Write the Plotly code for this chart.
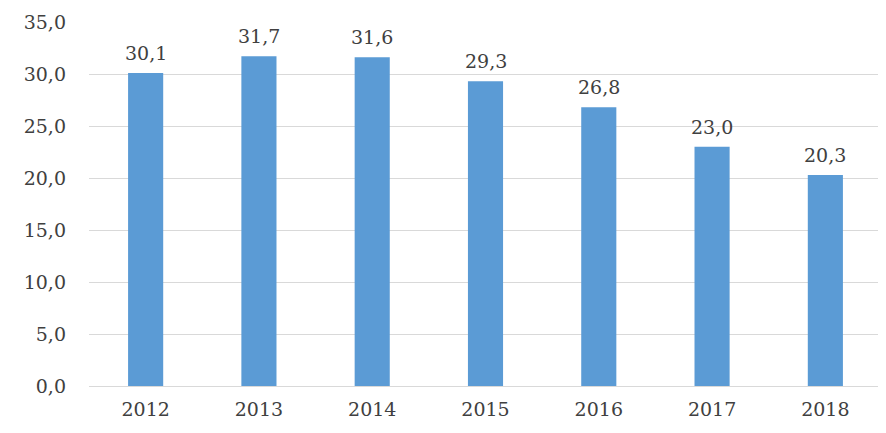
import plotly.graph_objects as go

years = ["2012", "2013", "2014", "2015", "2016", "2017", "2018"]
values = [30.1, 31.7, 31.6, 29.3, 26.8, 23.0, 20.3]
y_ticks = [0, 5, 10, 15, 20, 25, 30, 35]
y_tick_labels = ["0,0", "5,0", "10,0", "15,0", "20,0", "25,0", "30,0", "35,0"]
value_labels = [f"{v:.1f}".replace(".", ",") for v in values]

font_family = "DejaVu Serif, Liberation Serif, serif"
text_color = "#404040"

fig = go.Figure(
    go.Bar(
        x=years,
        y=values,
        marker=dict(color="#5B9BD5", line=dict(width=0)),
        cliponaxis=False,
        hoverinfo="skip",
    )
)

# value labels placed above each bar (category index on the x axis)
for i, (v, lbl) in enumerate(zip(values, value_labels)):
    fig.add_annotation(
        x=i, y=v, xref="x", yref="y", text=lbl, showarrow=False,
        xanchor="center", yanchor="bottom", yshift=7,
        font=dict(family=font_family, size=19, color=text_color),
    )

fig.update_layout(
    width=878,
    height=425,
    margin=dict(l=81, r=4, t=14, b=47),
    paper_bgcolor="white",
    plot_bgcolor="white",
    bargap=0.69,
    showlegend=False,
    font=dict(family=font_family, size=19, color=text_color),
)
fig.update_xaxes(
    type="category",
    categoryorder="array",
    categoryarray=years,
    showgrid=False,
    showline=False,
    zeroline=False,
    ticks="",
    ticklabelstandoff=10,
    tickfont=dict(family=font_family, size=19, color=text_color),
)
fig.update_yaxes(
    range=[0, 35],
    tickvals=y_ticks,
    ticktext=y_tick_labels,
    showgrid=True,
    gridcolor="#d9d9d9",
    gridwidth=1,
    zeroline=True,
    zerolinecolor="#d9d9d9",
    zerolinewidth=1,
    showline=False,
    ticks="",
    ticklabelstandoff=22,
    tickfont=dict(family=font_family, size=19, color=text_color),
)

fig.write_html("out.html")
